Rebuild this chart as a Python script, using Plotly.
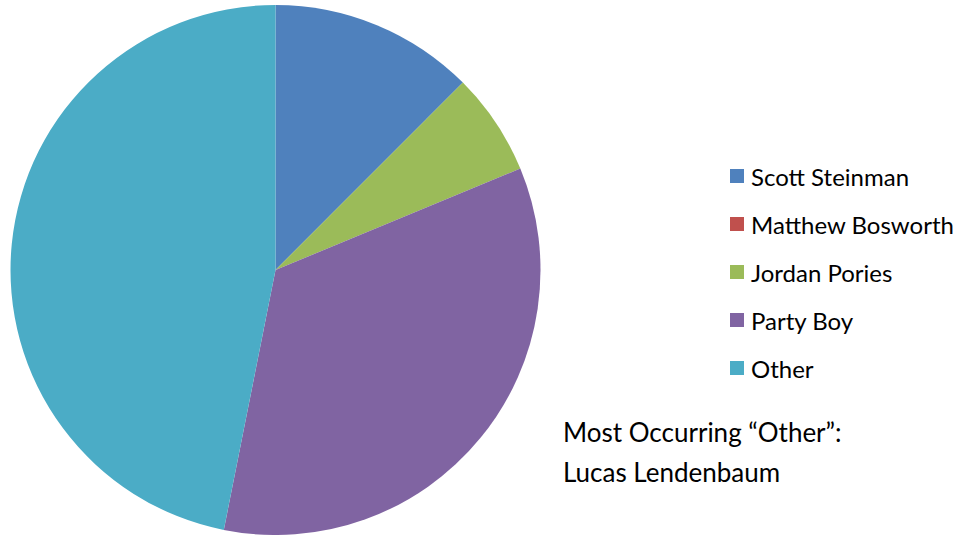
import plotly.graph_objects as go

labels = ["Scott Steinman", "Matthew Bosworth", "Jordan Pories", "Party Boy", "Other"]
values = [4, 0, 2, 11, 15]
colors = ["#4F81BD", "#C0504D", "#9BBB59", "#8064A2", "#4BACC6"]
note_lines = ["Most Occurring “Other”:", "Lucas Lendenbaum"]

W, H = 964, 535
TOP = 5
FONT = "Lato, 'Open Sans', sans-serif"


def py(ypx):
    return 1 - (ypx - TOP) / (H - TOP)


fig = go.Figure(go.Pie(
    labels=labels, values=values, sort=False, direction="clockwise", rotation=0,
    marker=dict(colors=colors, line=dict(width=0)),
    textinfo="none", hoverinfo="label+value",
    domain=dict(x=[10 / W, 541 / W], y=[0, 1]),
    showlegend=False,
))

shapes = []
annotations = []
for i, (lab, col) in enumerate(zip(labels, colors)):
    yc = 176 + 48 * i
    shapes.append(dict(type="rect", xref="paper", yref="paper",
                       x0=730 / W, x1=744 / W,
                       y0=py(yc + 7), y1=py(yc - 7),
                       fillcolor=col, line=dict(width=0)))
    annotations.append(dict(text=lab, xref="paper", yref="paper",
                            x=749 / W, y=py(yc), xanchor="left", yanchor="middle",
                            showarrow=False, font=dict(family=FONT, size=24, color="#000")))
for j, line in enumerate(note_lines):
    yc = 432 + 40 * j
    annotations.append(dict(text=line, xref="paper", yref="paper",
                            x=561 / W, y=py(yc), xanchor="left", yanchor="middle",
                            showarrow=False, font=dict(family=FONT, size=26, color="#000")))

fig.update_layout(width=W, height=H, margin=dict(l=0, r=0, t=TOP, b=0),
                  paper_bgcolor="white", plot_bgcolor="white",
                  shapes=shapes, annotations=annotations)
fig.write_html("out.html", config={"displayModeBar": False},
               post_script="document.body.style.margin='0';")
